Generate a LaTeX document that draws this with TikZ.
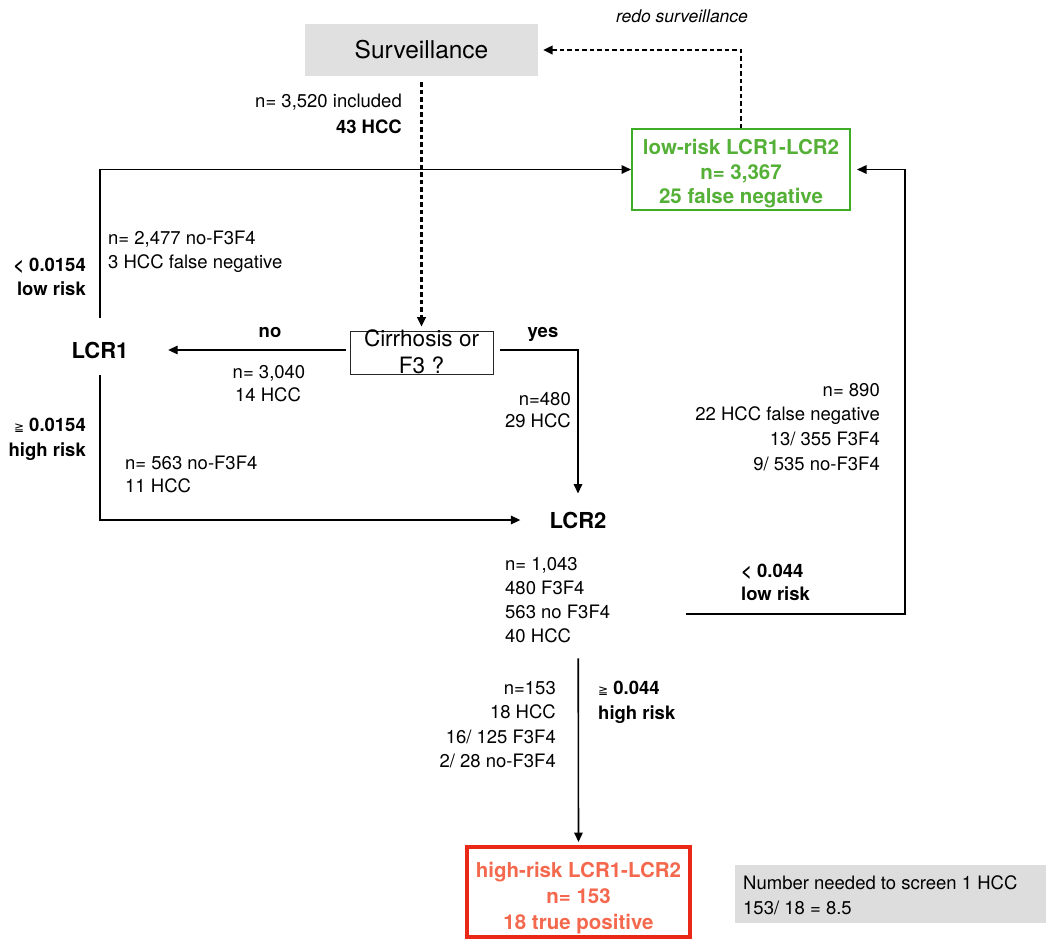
\documentclass[tikz,border=0pt]{standalone}
\usepackage{fontspec}
\setmainfont{TeX Gyre Heros}
\newfontfamily\symfont{DejaVu Sans}
\usetikzlibrary{arrows.meta}
\definecolor{survgray}{RGB}{224,224,224}
\definecolor{notegray}{RGB}{221,221,221}
\definecolor{lowgreen}{RGB}{62,172,36}
\definecolor{lowtext}{RGB}{84,176,54}
\definecolor{hired}{RGB}{234,40,24}
\definecolor{hitext}{RGB}{244,104,78}
\newcommand{\geqsym}{{\symfont\mdseries\fontsize{12}{14}\selectfont ≧}}
\begin{document}
\begin{tikzpicture}[x=1pt,y=-1pt,
  txt/.style={inner sep=0pt, font=\fontsize{18.5}{24.5}\selectfont},
  btxt/.style={inner sep=0pt, font=\bfseries\fontsize{18.5}{24.5}\selectfont},
  lcr/.style={inner sep=0pt, font=\bfseries\fontsize{22}{26}\selectfont},
  boxtxt/.style={inner sep=0pt, anchor=base, font=\bfseries\fontsize{20.5}{24.5}\selectfont},
  arr/.style={line width=1.6pt, -{Triangle[length=9.5pt,width=8.5pt]}},
  darr/.style={arr, line width=2.2pt, dash pattern=on 4.5pt off 3pt},
]
\useasboundingbox (0,0) rectangle (1046,940);

% boxes
\node[fill=survgray, minimum width=233pt, minimum height=52pt, inner sep=0pt,
      font=\fontsize{24.5}{28}\selectfont] (surv) at (421.5,50) {Surveillance};
\node[txt, anchor=base, font=\itshape\fontsize{17.5}{22}\selectfont] (redo) at (682,22.5) {redo surveillance};

\node[draw=lowgreen, line width=2pt, minimum width=218pt, minimum height=81pt, inner sep=0pt] (low) at (741,169.5) {};
\node[boxtxt, text=lowtext] (lowa) at (741,154.5) {low-risk LCR1-LCR2};
\node[boxtxt, text=lowtext] (lowb) at (741,179) {n= 3,367};
\node[boxtxt, text=lowtext] (lowc) at (741,203.5) {25 false negative};

\node[draw=black!85, line width=0.8pt, minimum width=143pt, minimum height=43pt, inner sep=0pt] (cirr) at (421.5,352.5) {};
\node[inner sep=0pt, anchor=base, font=\fontsize{22.5}{26}\selectfont] (cirra) at (421.5,346) {Cirrhosis or};
\node[inner sep=0pt, anchor=base, font=\fontsize{22.5}{26}\selectfont] (cirrb) at (421.5,373) {F3 ?};

\node[lcr] (lcr1) at (100,350) {LCR1};
\node[lcr] (lcr2) at (578,520) {LCR2};

\node[draw=hired, line width=4pt, minimum width=223pt, minimum height=90pt, inner sep=0pt] (high) at (578.5,892) {};
\node[boxtxt, text=hitext] (higha) at (578.5,877.5) {high-risk LCR1-LCR2};
\node[boxtxt, text=hitext] (highb) at (578.5,903.5) {n= 153};
\node[boxtxt, text=hitext] (highc) at (578.5,929.5) {18 true positive};

\node[fill=notegray, minimum width=311pt, minimum height=58pt, inner sep=0pt] (nns) at (890.5,894) {};
\node[txt, anchor=base west] (nnsa) at (743,889.5) {Number needed to screen 1 HCC};
\node[txt, anchor=base west] (nnsb) at (743,914.5) {153/ 18 = 8.5};

% labels
\node[txt, anchor=base east] (ta1) at (402,107.5) {n= 3,520 included};
\node[btxt, anchor=base east] (ta2) at (402,133.5) {43 HCC};

\node[txt, anchor=base west] (tb1) at (108,244.5) {n= 2,477 no-F3F4};
\node[txt, anchor=base west] (tb2) at (108,268.5) {3 HCC false negative};

\node[btxt, anchor=base east] (tc1) at (86,271.5) {< 0.0154};
\node[btxt, anchor=base east] (tc2) at (86,295.5) {low risk};

\node[btxt, anchor=base] (tno) at (270,337.5) {no};
\node[btxt, anchor=base] (tyes) at (543,337.5) {yes};

\node[txt, anchor=base] (td1) at (269,378.5) {n= 3,040};
\node[txt, anchor=base] (td2) at (268,401.5) {14 HCC};

\node[txt, anchor=base east] (te1) at (571,405.5) {n=480};
\node[txt, anchor=base east] (te2) at (571,427.5) {29 HCC};

\node[btxt, anchor=base east] (tf1) at (86,431.5) {\geqsym\ 0.0154};
\node[btxt, anchor=base east] (tf2) at (86,456.5) {high risk};

\node[txt, anchor=base west] (tg1) at (125,469.5) {n= 563 no-F3F4};
\node[txt, anchor=base west] (tg2) at (125,492.5) {11 HCC};

\node[txt, anchor=base east] (th1) at (880,396.5) {n= 890};
\node[txt, anchor=base east] (th2) at (880,420.5) {22 HCC false negative};
\node[txt, anchor=base east] (th3) at (880,445.5) {13/ 355 F3F4};
\node[txt, anchor=base east] (th4) at (880,470.5) {9/ 535 no-F3F4};

\node[txt, anchor=base west] (ti1) at (505,570.5) {n= 1,043};
\node[txt, anchor=base west] (ti2) at (505,594.5) {480 F3F4};
\node[txt, anchor=base west] (ti3) at (505,618.5) {563 no F3F4};
\node[txt, anchor=base west] (ti4) at (505,642.5) {40 HCC};

\node[btxt, anchor=base west] (tj1) at (741,577.5) {< 0.044};
\node[btxt, anchor=base west] (tj2) at (741,600.5) {low risk};

\node[txt, anchor=base east] (tk1) at (556,694.5) {n=153};
\node[txt, anchor=base east] (tk2) at (556,718.5) {18 HCC};
\node[txt, anchor=base east] (tk3) at (556,743.5) {16/ 125 F3F4};
\node[txt, anchor=base east] (tk4) at (556,767.5) {2/ 28 no-F3F4};

\node[btxt, anchor=base west] (tl1) at (598,694.5) {\geqsym\ 0.044};
\node[btxt, anchor=base west] (tl2) at (598,719.5) {high risk};

% connectors
\draw[darr, shorten <=6pt, shorten >=4pt] (surv.south) -- (cirr.north);
\draw[darr, shorten >=5pt] (low.north) |- (surv.east);
\draw[arr, shorten <=4pt, shorten >=39.5pt] (lcr1.east -| cirr.west) -- (lcr1.east);
\draw[arr, shorten <=7pt, shorten >=18pt] (lcr1.east -| cirr.east) -| (lcr2.north);
\draw[arr, shorten <=24pt] (lcr1.north) |- (low.west);
\draw[arr, shorten <=17pt, shorten >=29pt] (lcr1.south) |- (lcr2.west);
\coordinate (lowstart) at (686,614);
\draw[arr, shorten >=6pt] (lowstart) -- ++(219,0) |- (low.east);
\draw[arr, shorten <=130pt, shorten >=3pt] (lcr2.south) -- (high.north);
\end{tikzpicture}
\end{document}
